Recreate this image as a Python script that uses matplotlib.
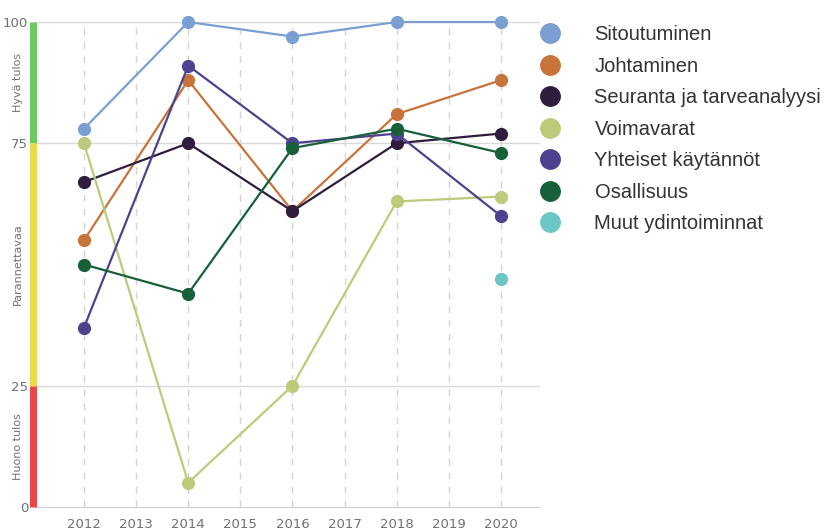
import numpy as np
import matplotlib.pyplot as plt
from matplotlib.lines import Line2D

# survey years and index values per theme (0-100)
years = [2012, 2014, 2016, 2018, 2020]
sitoutuminen = [78, 100, 97, 100, 100]
johtaminen = [55, 88, 61, 81, 88]
seuranta = [67, 75, 61, 75, 77]
voimavarat = [75, 5, 25, 63, 64]
yhteiset = [37, 91, 75, 77, 60]
osallisuus = [50, 44, 74, 78, 73]
muut = [np.nan, np.nan, np.nan, np.nan, 47]

labels = ["Sitoutuminen", "Johtaminen", "Seuranta ja tarveanalyysi", "Voimavarat",
          "Yhteiset käytännöt", "Osallisuus", "Muut ydintoiminnat"]
colors = ["#7a9fd2", "#c8733a", "#2e1d3d", "#bccb7b", "#4d4290", "#17603a", "#6cc7c4"]
series = [sitoutuminen, johtaminen, seuranta, voimavarat, yhteiset, osallisuus, muut]

# result bands: (low, high, colour, label)
bands = [(75, 100, "#6cc860", "Hyvä tulos"),
         (25, 75, "#ecd949", "Parannettavaa"),
         (0, 25, "#e8474a", "Huono tulos")]

fig = plt.figure(figsize=(8.4, 5.32), dpi=100)
ax = fig.add_axes([35 / 840, 25 / 532, 505 / 840, 485 / 532])

ax.set_xlim(2011.06, 2020.75)
ax.set_ylim(0, 100)

for yr in range(2012, 2021):
    ax.axvline(yr, color="#d4d4d4", lw=1, ls=(0, (5, 5)), zorder=0)
for yv in [25, 75, 100]:
    ax.axhline(yv, color="#d9d9d9", lw=1, zorder=0)

for vals, col in zip(series, colors):
    ax.plot(years, vals, color=col, lw=1.6, marker="o", ms=8.5, zorder=3, clip_on=False)

ax.set_xticks(range(2012, 2021))
ax.set_yticks([0, 25, 75, 100])
ax.set_yticklabels(["0", "25", "75", "100"])
ax.tick_params(axis="both", length=0, colors="#707070", labelsize=9.5)
ax.tick_params(axis="y", pad=5)
ax.tick_params(axis="x", pad=8)
for s in ["top", "right", "left"]:
    ax.spines[s].set_visible(False)
ax.spines["bottom"].set_color("#cfcfcf")

# coloured band bar along the y axis with rotated captions
for lo, hi, col, txt in bands:
    ax.plot([2011.02, 2011.02], [lo, hi], color=col, lw=5, solid_capstyle="butt",
            clip_on=False, zorder=4)
    ax.text(-0.033, (lo + hi) / 2, txt, transform=ax.get_yaxis_transform(),
            rotation=90, ha="center", va="center", fontsize=8, color="#707070")

handles = [Line2D([], [], ls="none", marker="o", ms=14, color=c) for c in colors]
fig.legend(handles, labels, loc="upper left", bbox_to_anchor=(522 / 840, 1 - 7 / 532),
           frameon=False, labelspacing=0.62, handlelength=1.0, handletextpad=1.7,
           prop={"family": "Liberation Sans", "size": 14.5},
           labelcolor="#333333")

fig.savefig("out.png", dpi=100)
